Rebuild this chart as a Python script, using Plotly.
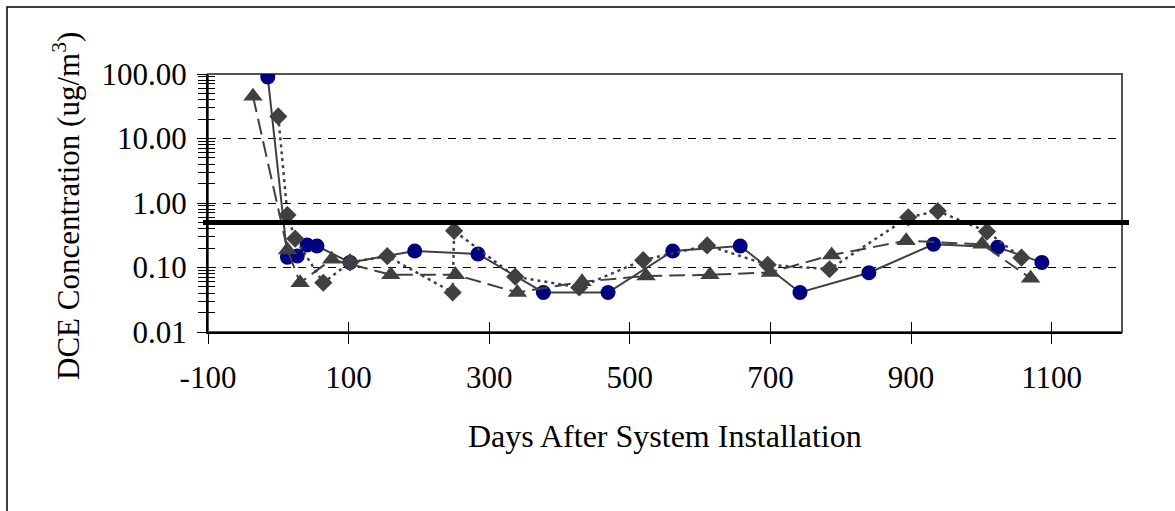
import plotly.graph_objects as go

# ---- data ----
circle_days = [-15, 13, 27, 41, 55, 102, 194, 284, 377, 469, 561, 657, 742, 840, 932, 1023, 1086]
circle_conc = [90, 0.144, 0.151, 0.223, 0.215, 0.12, 0.18, 0.162, 0.041, 0.041, 0.18, 0.215, 0.041, 0.083, 0.229, 0.206, 0.12]

diamond_days = [0, 13, 24, 64, 102, 155, 248, 250, 337, 428, 519, 610, 696, 784, 896, 938, 1008, 1057]
diamond_conc = [22, 0.65, 0.28, 0.058, 0.12, 0.15, 0.041, 0.37, 0.072, 0.049, 0.13, 0.22, 0.11, 0.094, 0.6, 0.75, 0.36, 0.142]

triangle_days = [-36, 13, 31, 76, 160, 252, 340, 432, 523, 614, 700, 787, 893, 1001, 1070]
triangle_conc = [45, 0.187, 0.058, 0.134, 0.077, 0.077, 0.041, 0.06, 0.074, 0.077, 0.084, 0.156, 0.26, 0.229, 0.068]

limit_value = 0.5

x_tickvals = [-100, 100, 300, 500, 700, 900, 1100]
x_ticktext = ["-100", "100", "300", "500", "700", "900", "1100"]
y_tickvals = [0.01, 0.1, 1, 10, 100]
y_ticktext = ["0.01", "0.10", "1.00", "10.00", "100.00"]

x_title = "Days After System Installation"
y_title = "DCE Concentration (ug/m<sup>3</sup>)"

# ---- figure ----
FONT = "Liberation Serif, Times New Roman, serif"
W, H = 1175, 511
# plot area in page pixels: x 208..1122, y 74..332
L, T = 208, 74
pw, ph = 1122 - 208, 332 - 74
R, B = W - L - pw, H - T - ph

def px2paper_x(p):
    return (p - L) / pw

def px2paper_y(q):
    return (T + ph - q) / ph

fig = go.Figure()

gray = "#404040"

fig.add_trace(go.Scatter(
    x=circle_days, y=circle_conc, mode="lines+markers",
    line=dict(color=gray, width=2),
    marker=dict(symbol="circle", size=15, color="#000080"),
))
fig.add_trace(go.Scatter(
    x=diamond_days, y=diamond_conc, mode="lines+markers",
    line=dict(color=gray, width=2.5, dash="3px,4px"),
    marker=dict(symbol="diamond", size=14, color=gray),
))
fig.add_trace(go.Scatter(
    x=triangle_days, y=triangle_conc, mode="lines+markers",
    line=dict(color=gray, width=2, dash="16px,7px"),
    marker=dict(symbol="triangle-up", size=17, color=gray),
))
# invisible trace to carry the overlay axes (inside tick marks + gridlines)
fig.add_trace(go.Scatter(x=[None], y=[None], xaxis="x2", yaxis="y2",
                         mode="markers", hoverinfo="skip"))

fig.update_layout(
    width=W, height=H,
    margin=dict(l=L, r=R, t=T, b=B),
    paper_bgcolor="white", plot_bgcolor="white",
    showlegend=False,
    font=dict(family=FONT, size=31, color="black"),
    xaxis=dict(
        range=[-100, 1200], tickmode="array", tickvals=x_tickvals, ticktext=x_ticktext,
        ticks="outside", ticklen=10, tickwidth=1, tickcolor="black",
        showline=True, linecolor="black", linewidth=2,
        showgrid=False, zeroline=False,
        tickfont=dict(family=FONT, size=31, color="black"),
        ticklabelstandoff=7,
    ),
    yaxis=dict(
        type="log", range=[-2, 2], tickmode="array",
        tickvals=y_tickvals, ticktext=y_ticktext,
        ticks="outside", ticklen=9, tickwidth=1, tickcolor="black",
        minor=dict(ticks="outside", ticklen=8, tickwidth=1, tickcolor="black",
                   dtick="D1", showgrid=False),
        showline=True, linecolor="black", linewidth=2,
        showgrid=False, zeroline=False,
        tickfont=dict(family=FONT, size=31, color="black"),
        ticklabelstandoff=4,
    ),
    xaxis2=dict(
        overlaying="x", anchor="y2", side="bottom",
        range=[-100, 1200], tickmode="array", tickvals=x_tickvals,
        ticks="inside", ticklen=10, tickwidth=1, tickcolor="black",
        showticklabels=False, showline=False, showgrid=False, zeroline=False,
    ),
    yaxis2=dict(
        overlaying="y", anchor="x2", side="left",
        type="log", range=[-2, 2], tickmode="array", tickvals=[0.1, 1, 10],
        ticks="inside", ticklen=8, tickwidth=1, tickcolor="black",
        minor=dict(ticks="inside", ticklen=7, tickwidth=1, tickcolor="black",
                   dtick="D1", showgrid=False),
        showticklabels=False, showline=False,
        showgrid=True, gridcolor="black", gridwidth=1, griddash="8px,7px",
        zeroline=False,
    ),
    shapes=[
        # plot-area frame (gray)
        dict(type="rect", xref="paper", yref="paper", x0=0, x1=1, y0=0, y1=1,
             line=dict(color="#555555", width=2), layer="below"),
        # outer chart frame
        dict(type="rect", xref="paper", yref="paper",
             x0=px2paper_x(7), x1=px2paper_x(1185),
             y0=px2paper_y(525), y1=px2paper_y(7),
             line=dict(color="black", width=1.5), layer="below"),
        # limit line
        dict(type="line", xref="paper", yref="y",
             x0=px2paper_x(203), x1=px2paper_x(1129),
             y0=limit_value, y1=limit_value,
             line=dict(color="black", width=5), layer="above"),
    ],
    annotations=[
        dict(text=x_title, xref="paper", yref="paper",
             x=px2paper_x(665), y=px2paper_y(436),
             xanchor="center", yanchor="middle", showarrow=False,
             font=dict(family=FONT, size=32, color="black")),
        dict(text=y_title, xref="paper", yref="paper",
             x=px2paper_x(66), y=px2paper_y(206), textangle=-90,
             xanchor="center", yanchor="middle", showarrow=False,
             font=dict(family=FONT, size=31, color="black")),
    ],
)

fig.write_html("out.html",
               config={"displayModeBar": False},
               post_script="document.body.style.margin='0';document.body.style.overflow='hidden';")
